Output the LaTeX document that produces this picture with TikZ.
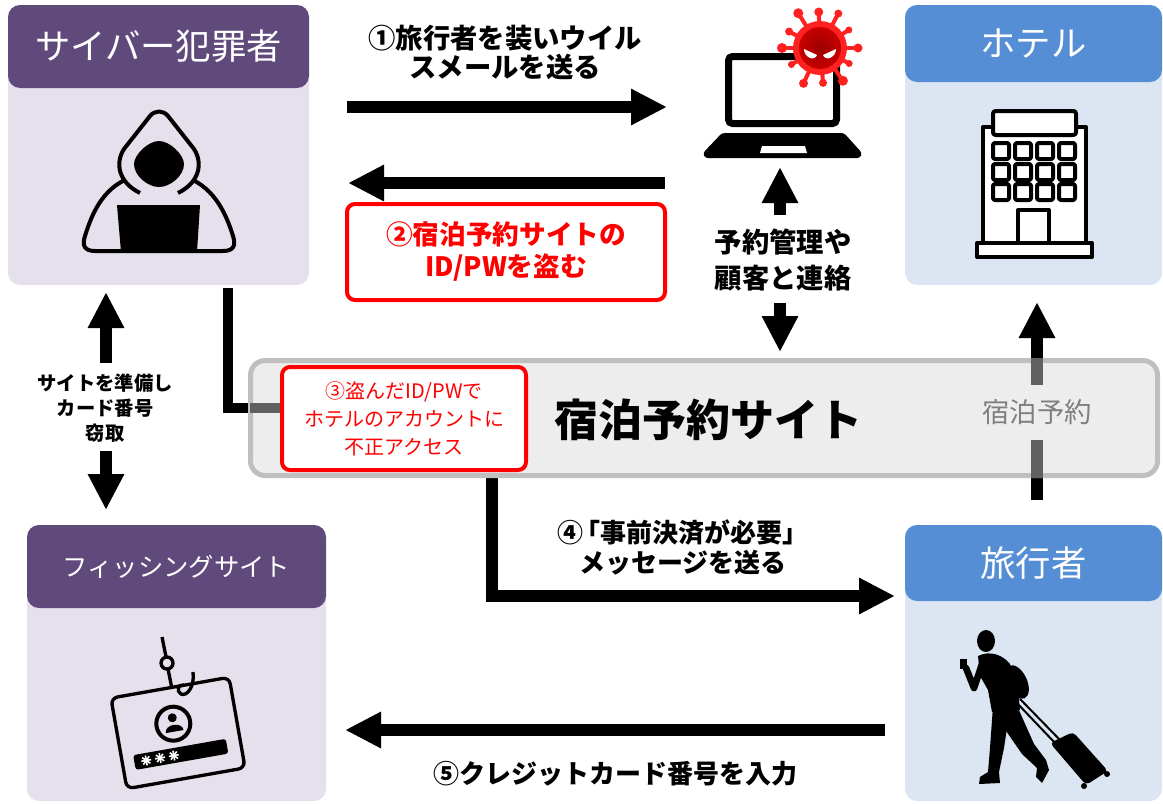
\documentclass[tikz,border=0pt]{standalone}
\usepackage{fontspec}
\setmainfont{Noto Sans CJK JP}
\usetikzlibrary{arrows.meta}

\definecolor{purpHead}{HTML}{604A7B}
\definecolor{purpBody}{HTML}{E5E0EC}
\definecolor{blueHead}{HTML}{558ED5}
\definecolor{blueBody}{HTML}{DCE6F2}
\definecolor{siteFill}{HTML}{EDEDED}
\definecolor{siteLine}{HTML}{BFBFBF}
\definecolor{throughGray}{HTML}{606060}
\definecolor{labelGray}{HTML}{7F7F7F}
\definecolor{alertRed}{HTML}{FF0000}
\definecolor{virusRed}{HTML}{FF2020}
\definecolor{virusDark}{HTML}{9A0000}
\definecolor{virusMid}{HTML}{C80000}

\begin{document}
\begin{tikzpicture}[x=0.75pt,y=-0.75pt,
  panel/.style={rounded corners=9pt, inner sep=0pt, outer sep=0pt},
  hdr/.style={text=white, font=\fontsize{26.5}{30}\selectfont},
  bigarrow/.style={line width=9pt, -{Triangle[length=27pt,width=25.5pt]}},
  note/.style={font=\bfseries\fontsize{20.5}{21.75}\selectfont, align=center, inner sep=0pt},
  alertbox/.style={draw=alertRed, line width=3pt, fill=white, rounded corners=6pt,
                   text=alertRed, align=center, inner sep=0pt},
  iconline/.style={line width=3pt, line join=round},
]
\useasboundingbox (0,0) rectangle (1163,803);

% ---------- panels ----------
\node[panel, fill=purpBody, minimum width=225.75pt, minimum height=210pt] (crim) at (158.5,145) {};
\node[panel, fill=purpHead, minimum width=225.75pt, minimum height=62.25pt, hdr] (crimhead) at (158.5,46.5) {サイバー犯罪者};

\node[panel, fill=blueBody, minimum width=192.75pt, minimum height=210pt] (hotel) at (1033.5,145) {};
\node[panel, fill=blueHead, minimum width=192.75pt, minimum height=57.75pt, hdr] (hotelhead) at (1033.5,43.5) {ホテル};

\node[panel, fill=purpBody, minimum width=224.25pt, minimum height=207pt] (phish) at (176.5,663) {};
\node[panel, fill=purpHead, minimum width=224.25pt, minimum height=62.25pt, hdr,
      font=\fontsize{19}{22}\selectfont] (phishhead) at (176.5,566.5) {フィッシングサイト};

\node[panel, fill=blueBody, minimum width=192.75pt, minimum height=207pt] (trav) at (1033.5,663) {};
\node[panel, fill=blueHead, minimum width=192.75pt, minimum height=57pt, hdr] (travhead) at (1033.5,563) {旅行者};

% ---------- hooded figure at a laptop ----------
\draw[iconline, fill=purpBody] (95,251) .. controls (84,251) and (82,245) .. (85,236)
   .. controls (93,210) and (105,185) .. (135,176) -- (183,176)
   .. controls (212,185) and (225,210) .. (233,236)
   .. controls (236,245) and (234,251) .. (223,251) -- cycle;
\draw[iconline, fill=purpBody] (140,193) .. controls (118,182) and (115,163) .. (124,149)
   -- (150,116) .. controls (155,110) and (163,110) .. (168,116) -- (194,149)
   .. controls (203,163) and (200,182) .. (178,193);
\fill (159,141) .. controls (170,141) and (184,155) .. (184,164)
   .. controls (184,176) and (170,187) .. (159,187)
   .. controls (148,187) and (134,176) .. (134,164)
   .. controls (134,155) and (148,141) .. (159,141) -- cycle;
\fill (117,205) -- (200,205) -- (197,252) -- (121,252) -- cycle;

% ---------- hotel building ----------
\draw[iconline, fill=white] (983,127) rectangle (1086,243);
\draw[iconline, fill=white, rounded corners=2pt] (993,111) rectangle (1076,135);
\foreach \wx in {993,1015,1037,1059}{
  \foreach \wy in {143,164,184}{
    \draw[iconline, rounded corners=1.5pt] (\wx,\wy) rectangle ++(16,16);
  }
}
\draw[iconline, fill=white] (1018,210) rectangle (1049,243);
\draw[iconline, fill=white] (977,243) rectangle (1092,257);

% ---------- hooked login card ----------
\draw[line width=2.5pt] (162,637) -- (166,657);
\draw[line width=2.5pt] (167,663) circle (6);
\draw[line width=2.5pt] (168,669) -- (172,689);
\begin{scope}[shift={(178,733)}, rotate=10]
  \draw[line width=2.5pt, rounded corners=5pt, fill=purpBody] (-60,-46) rectangle (60,46);
  \draw[line width=3pt] (-3,-10) circle (17);
  \fill (-3,-16) circle (4.5);
  \fill (-12,-2) .. controls (-12,-11) and (6,-11) .. (6,-2) -- cycle;
  \fill[rounded corners=2pt] (-48,14) rectangle (46,29);
  \foreach \cx in {-36,-22,-8}{
    \foreach \ang/\bng in {0/180,45/225,90/270,135/315}{
      \draw[white, line width=1.2pt] (\cx,21.5) ++(\ang:5) -- ++(\bng:10);
    }
  }
\end{scope}
\draw[line width=2.5pt] (193,672) .. controls (195,686) and (187,697) .. (181,694)
   .. controls (176,691) and (178,684) .. (184,685);

% ---------- traveller with a suitcase ----------
\fill (986,641) ellipse [x radius=9, y radius=11];
\fill (978,656) .. controls (990,650) and (1003,655) .. (1010,664) -- (1019,700) -- (1020,710)
   -- (992,712) -- (988,690) -- (980,676) -- cycle;
\fill[rotate around={25:(1017,682)}] (1017,682) ellipse [x radius=10, y radius=18];
\draw[line width=5pt, line cap=round, line join=round] (982,664) -- (974,688) -- (966,668);
\fill (960,659) rectangle (967,669);
\draw[line width=5pt, line cap=round] (1008,668) -- (1016,700);
\draw[line width=1.5pt] (1015,701) -- (1056,744);
\draw[line width=1.5pt] (1020,699) -- (1061,741);
\fill[rounded corners=3pt] (1050,743) -- (1073,732) -- (1108,771) -- (1086,785) -- cycle;
\fill (1084,786) circle (3);
\fill (1107,774) circle (3);
\fill (993,706) -- (1010,708) -- (1004,748) -- (999,772) -- (1000,783) -- (979,784)
   -- (980,777) -- (988,772) -- (990,748) -- cycle;
\fill (1000,708) -- (1018,708) -- (1034,744) -- (1046,760) -- (1049,770) -- (1042,783)
   -- (1036,777) -- (1037,768) -- (1022,754) -- (1004,728) -- cycle;

% ---------- infected laptop ----------
\node[draw, line width=5.25pt, rounded corners=3pt, minimum width=81pt, minimum height=50.25pt,
      inner sep=0pt] (laptop) at (782.5,90) {};
\fill[rounded corners=2pt] (722,133) -- (844,133) -- (862,153) -- (860,158) -- (705,158)
   -- (703,153) -- cycle;
\fill[white] (762,146) -- (805,146) -- (807,153) -- (760,153) -- cycle;
\begin{scope}[shift={(820,48)}]
  \foreach \a/\r/\b in {0/38/4.5, 28/33/3.5, 55/40/5, 85/35/4, 115/39/4.5, 150/33/3.5,
                        180/38/5, 208/35/4, 238/41/5, 268/36/4.5, 298/39/4, 328/34/3.5}{
    \draw[virusRed, line width=3pt] (0,0) -- (\a:\r);
    \fill[virusRed] (\a:\r) circle (\b);
  }
  \fill[virusRed] (0,0) circle (27);
  \shade[inner color=virusDark, outer color=virusMid] (0,0) circle (21);
  \fill[white] (-16,1) -- (-3,7) .. controls (-4,10) and (-7,11) .. (-10,10)
     .. controls (-14,8) and (-16,5) .. cycle;
  \fill[white] (16,1) -- (3,7) .. controls (4,10) and (7,11) .. (10,10)
     .. controls (14,8) and (16,5) .. cycle;
\end{scope}

% ---------- connectors passing behind the booking site ----------
\coordinate (crimdrop) at (228,288);
\coordinate (crimjoin) at (250,408);
\coordinate (travup) at (1037,500);
\coordinate (hoteltip) at (1037,302);
\coordinate (msgstart) at (492,478);
\coordinate (msgtip) at (895,596);

\draw[line width=7.5pt] (crimdrop) |- (crimjoin);
\draw[bigarrow] (travup) -- (hoteltip);
\draw[bigarrow] (msgstart) |- (msgtip);

% ---------- booking site ----------
\node[draw=siteLine, line width=3.75pt, fill=siteFill, rounded corners=11pt,
      minimum width=680.25pt, minimum height=86.25pt, inner sep=0pt] (site) at (704,418) {};
\draw[throughGray, line width=7.5pt] (crimjoin) -- (282,408);
\draw[throughGray, line width=9pt] (1037,358) -- (1037,478);
\node[fill=siteFill, text=labelGray, font=\fontsize{20.5}{24}\selectfont,
      minimum height=41pt, inner xsep=2pt] (booklbl) at (1037,412.5) {宿泊予約};
\node[font=\bfseries\fontsize{33}{36}\selectfont] (sitetitle) at (708,420) {宿泊予約サイト};
\node[alertbox, minimum width=183pt, minimum height=77.25pt,
      font=\fontsize{15}{21}\selectfont] (step3) at (404,418.5)
      {③盗んだID/PWで\\ホテルのアカウントに\\不正アクセス};

% ---------- step arrows and labels ----------
\coordinate (m1a) at (347,107);  \coordinate (m1b) at (667,107);
\coordinate (m2a) at (665,183);  \coordinate (m2b) at (348,183);
\draw[bigarrow] (m1a) -- (m1b);
\draw[bigarrow] (m2a) -- (m2b);
\node[note] (step1) at (505,52.5) {①旅行者を装いウイル\\スメールを送る};
\node[alertbox, minimum width=238.5pt, minimum height=72pt,
      font=\bfseries\fontsize{20}{24}\selectfont] (step2) at (506,252)
      {②宿泊予約サイトの\\ID/PWを盗む};

\coordinate (mupa) at (780,215);  \coordinate (mupb) at (780,167);
\coordinate (mdna) at (780,303);  \coordinate (mdnb) at (780,352);
\draw[bigarrow] (mupa) -- (mupb);
\draw[bigarrow] (mdna) -- (mdnb);
\node[note, font=\bfseries\fontsize{20.5}{27}\selectfont] (manage) at (783,260)
      {予約管理や\\顧客と連絡};

\coordinate (lupa) at (106,363);  \coordinate (lupb) at (106,292);
\coordinate (ldna) at (106,451);  \coordinate (ldnb) at (106,510);
\draw[bigarrow] (lupa) -- (lupb);
\draw[bigarrow] (ldna) -- (ldnb);
\node[note, font=\bfseries\fontsize{14.5}{18.75}\selectfont] (prep) at (105,408)
      {サイトを準備し\\カード番号\\窃取};

\node[note, font=\bfseries\fontsize{19.5}{23}\selectfont] (step4) at (683,547.5)
      {④\kern-0.35em「事前決済が必要」\\メッセージを送る};

\coordinate (m5a) at (885,730);  \coordinate (m5b) at (345,730);
\draw[bigarrow] (m5a) -- (m5b);
\node[note, font=\bfseries\fontsize{19.5}{23}\selectfont] (step5) at (615,774)
      {⑤クレジットカード番号を入力};

\end{tikzpicture}
\end{document}
